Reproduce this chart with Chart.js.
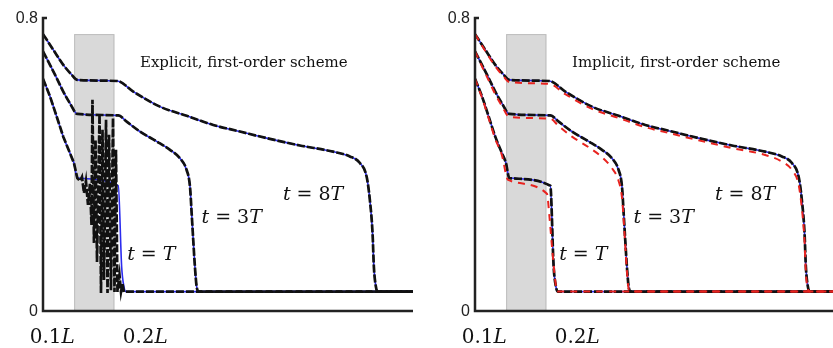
<!DOCTYPE html>
<html>
<head>
<meta charset="utf-8">
<script src="https://cdn.jsdelivr.net/npm/chart.js@4/dist/chart.umd.min.js"></script>
<style>
  html, body { margin: 0; padding: 0; background: #fff; }
  #wrap { position: relative; width: 833px; height: 348px; overflow: hidden; }
  #leftBox { position: absolute; left: 0; top: 0; width: 420px; height: 348px; }
  #rightBox { position: absolute; left: 420px; top: 0; width: 413px; height: 348px; overflow: hidden; }
</style>
</head>
<body>
<div id="wrap">
  <div id="leftBox"><canvas id="cLeft" width="420" height="348"></canvas></div>
  <div id="rightBox"><canvas id="cRight" width="432" height="348"></canvas></div>
</div>
<script>
// Position along the channel (x / L) and depth profiles at t = T, 3T, 8T.

// Ticks
const xTickValues = [0.1, 0.2];
const xTickLabels = ['0.1', '0.2'];
const yTickValues = [0, 0.8];
const yTickLabels = ['0', '0.8'];

// Shaded region
const bandRange = [0.1235, 0.1668];
const bandTop = 0.756;

// Reference solution (shared by both panels)
const refT_x = [0.090, 0.0975, 0.1047, 0.1118, 0.1190, 0.1233, 0.1269, 0.1710, 0.1746, 0.1771, 0.1792, 0.488];
const refT_y = [0.634, 0.586, 0.531, 0.476, 0.431, 0.404, 0.363, 0.342, 0.121, 0.066, 0.053, 0.053];

const ref3T_x = [0.090, 0.0975, 0.1047, 0.1118, 0.1190, 0.1269, 0.1710, 0.1800, 0.1943, 0.2123, 0.2266, 0.2373, 0.2445, 0.2481, 0.2499, 0.2516, 0.2534, 0.2553, 0.2577, 0.488];
const ref3T_y = [0.709, 0.672, 0.636, 0.599, 0.567, 0.538, 0.534, 0.517, 0.490, 0.463, 0.440, 0.417, 0.385, 0.340, 0.267, 0.194, 0.121, 0.066, 0.053, 0.053];

const ref8T_x = [0.090, 0.1011, 0.1118, 0.1209, 0.1269, 0.1699, 0.1871, 0.2158, 0.2445, 0.2731, 0.3018, 0.3305, 0.3663, 0.4022, 0.4201, 0.4309, 0.4381, 0.4416, 0.4445, 0.4459, 0.4481, 0.4499, 0.488];
const ref8T_y = [0.756, 0.713, 0.672, 0.645, 0.631, 0.628, 0.599, 0.558, 0.533, 0.508, 0.490, 0.472, 0.452, 0.435, 0.422, 0.404, 0.367, 0.303, 0.212, 0.121, 0.066, 0.053, 0.053];

// Explicit scheme at t = T (oscillates inside the shaded region)
const expT_x = [0.090, 0.0975, 0.1047, 0.1118, 0.1190, 0.1233, 0.1269, 0.1298, 0.1319, 0.1341, 0.1362, 0.1384, 0.1405,
                0.1422, 0.1432, 0.1448, 0.1465, 0.1481, 0.1508, 0.1524, 0.1540, 0.1556, 0.1578, 0.1594, 0.1610, 0.1631,
                0.1653, 0.1669, 0.1685, 0.1701, 0.1723, 0.1739, 0.1755, 0.1771, 0.1792, 0.488];
const expT_y = [0.634, 0.586, 0.531, 0.476, 0.431, 0.404, 0.363, 0.355, 0.366, 0.322, 0.355, 0.290, 0.347,
                0.235, 0.577, 0.186, 0.467, 0.134, 0.536, 0.049, 0.495, 0.085, 0.522, 0.049, 0.481, 0.057,
                0.527, 0.052, 0.440, 0.052, 0.098, 0.052, 0.074, 0.052, 0.053, 0.053];

// Implicit scheme
const impT_x = [0.090, 0.0975, 0.1047, 0.1118, 0.1190, 0.1255, 0.1674, 0.1700, 0.1730, 0.1760, 0.1785, 0.488];
const impT_y = [0.634, 0.583, 0.526, 0.470, 0.425, 0.358, 0.320, 0.260, 0.170, 0.090, 0.053, 0.053];

const imp3T_x = [0.090, 0.0975, 0.1047, 0.1118, 0.1190, 0.1269, 0.1710, 0.1800, 0.1943, 0.2123, 0.2266, 0.2373, 0.2445, 0.2481, 0.2499, 0.2516, 0.2534, 0.2553, 0.2577, 0.488];
const imp3T_y = [0.709, 0.668, 0.630, 0.592, 0.560, 0.530, 0.525, 0.505, 0.476, 0.447, 0.420, 0.390, 0.355, 0.310, 0.250, 0.180, 0.110, 0.060, 0.053, 0.053];

const imp8T_x = [0.090, 0.1011, 0.1118, 0.1209, 0.1269, 0.1699, 0.1871, 0.2158, 0.2445, 0.2731, 0.3018, 0.3305, 0.3663, 0.4022, 0.4201, 0.4309, 0.4381, 0.4416, 0.4445, 0.4459, 0.4481, 0.4499, 0.488];
const imp8T_y = [0.756, 0.710, 0.668, 0.640, 0.625, 0.620, 0.592, 0.552, 0.527, 0.502, 0.484, 0.466, 0.445, 0.426, 0.408, 0.385, 0.345, 0.280, 0.190, 0.105, 0.060, 0.053, 0.053];

// Curve labels: multiplier text and baseline position
const curveLabels = [
  { k: '8', x: 0.3481, y: 0.303 },
  { k: '3', x: 0.2605, y: 0.240 },
  { k: '',  x: 0.1805, y: 0.139 }
];

const SERIF = '"DejaVu Serif", "Liberation Serif", serif';
const SANS = '"Liberation Sans", Arial, sans-serif';

function pts(xs, ys) { return xs.map((x, i) => ({ x: x, y: ys[i] })); }

function drawRuns(ctx, runs, x0, y0) {
  let x = x0;
  for (const r of runs) {
    if (r.gap) { x += r.gap; continue; }
    ctx.font = r.font;
    ctx.fillText(r.t, x, y0);
    x += ctx.measureText(r.t).width;
  }
}

const decor = {
  id: 'decor',
  beforeDatasetsDraw(chart, args, o) {
    const { ctx, chartArea: a, scales: { x, y } } = chart;
    const x0 = x.getPixelForValue(bandRange[0]);
    const x1 = x.getPixelForValue(bandRange[1]);
    const yt = y.getPixelForValue(bandTop);
    ctx.save();
    ctx.fillStyle = '#d9d9d9';
    ctx.fillRect(x0, yt, x1 - x0, a.bottom - yt);
    ctx.strokeStyle = '#bdbdbd';
    ctx.lineWidth = 1;
    ctx.strokeRect(x0 + 0.5, yt + 0.5, x1 - x0 - 1, a.bottom - yt);
    ctx.restore();
  },
  afterDatasetsDraw(chart, args, o) {
    const { ctx, chartArea: a, scales: { x, y } } = chart;
    ctx.save();
    // axes
    const yTop = y.getPixelForValue(yTickValues[yTickValues.length - 1]);
    ctx.strokeStyle = '#222';
    ctx.lineWidth = 2.5;
    ctx.beginPath();
    ctx.moveTo(a.left + 4, yTop);
    ctx.lineTo(a.left, yTop);
    ctx.lineTo(a.left, a.bottom);
    ctx.lineTo(a.right, a.bottom);
    ctx.stroke();

    // y tick labels
    ctx.fillStyle = '#222';
    ctx.font = '16px ' + SANS;
    ctx.textAlign = 'right';
    ctx.textBaseline = 'middle';
    yTickValues.forEach((v, i) => {
      ctx.fillText(yTickLabels[i], a.left - 5, y.getPixelForValue(v) + 1);
    });

    // x tick labels: number upright, L italic
    ctx.fillStyle = '#111';
    ctx.textAlign = 'left';
    ctx.textBaseline = 'alphabetic';
    const up = '20px ' + SERIF, it = 'italic 20px ' + SERIF;
    xTickValues.forEach((v, i) => {
      ctx.font = up; const w1 = ctx.measureText(xTickLabels[i]).width;
      ctx.font = it; const w2 = ctx.measureText('L').width;
      const cx = x.getPixelForValue(v);
      drawRuns(ctx, [{ t: xTickLabels[i], font: up }, { t: 'L', font: it }], cx - (w1 + w2) / 2, a.bottom + 32);
    });

    // curve labels
    const mUp = '19px ' + SERIF, mIt = 'italic 19px ' + SERIF;
    curveLabels.forEach(l => {
      const runs = [{ t: 't', font: mIt }, { gap: 6 }, { t: '=', font: mUp }, { gap: 6 }];
      if (l.k) runs.push({ t: l.k, font: mUp });
      runs.push({ t: 'T', font: mIt });
      drawRuns(ctx, runs, x.getPixelForValue(l.x), y.getPixelForValue(l.y));
    });

    // panel title
    ctx.font = '15px ' + SERIF;
    ctx.fillText(o.title, x.getPixelForValue(0.1943), y.getPixelForValue(0.667));
    ctx.restore();
  }
};

const BLUE = '#2b2bee', BLACK = '#111111', RED = '#e8231f';

function refSet(xs, ys) {
  return { data: pts(xs, ys), borderColor: BLUE, borderWidth: 1.6, cubicInterpolationMode: 'monotone', order: 3 };
}
function blackSet(xs, ys, smooth) {
  const d = { data: pts(xs, ys), borderColor: BLACK, borderWidth: 2.7, borderDash: [8, 2], order: 2 };
  if (smooth) d.cubicInterpolationMode = 'monotone'; else d.tension = 0;
  return d;
}
function redSet(xs, ys) {
  return { data: pts(xs, ys), borderColor: RED, borderWidth: 2, borderDash: [7, 6], cubicInterpolationMode: 'monotone', order: 1 };
}

function makeChart(id, padLeft, title, datasets) {
  return new Chart(document.getElementById(id), {
    type: 'line',
    data: { datasets: datasets },
    options: {
      responsive: false,
      animation: false,
      devicePixelRatio: 1,
      layout: { padding: { left: padLeft, right: 7, top: 18, bottom: 37 } },
      elements: { point: { radius: 0 } },
      scales: {
        x: { type: 'linear', min: 0.09, max: 0.488, display: false },
        y: { min: 0, max: 0.8, display: false }
      },
      plugins: { legend: { display: false }, tooltip: { enabled: false }, decor: { title: title } }
    },
    plugins: [decor]
  });
}

makeChart('cLeft', 43, 'Explicit, first-order scheme', [
  refSet(ref8T_x, ref8T_y), refSet(ref3T_x, ref3T_y), refSet(refT_x, refT_y),
  blackSet(ref8T_x, ref8T_y, true), blackSet(ref3T_x, ref3T_y, true), blackSet(expT_x, expT_y, false)
]);

makeChart('cRight', 55, 'Implicit, first-order scheme', [
  refSet(ref8T_x, ref8T_y), refSet(ref3T_x, ref3T_y), refSet(refT_x, refT_y),
  blackSet(ref8T_x, ref8T_y, true), blackSet(ref3T_x, ref3T_y, true), blackSet(refT_x, refT_y, true),
  redSet(imp8T_x, imp8T_y), redSet(imp3T_x, imp3T_y), redSet(impT_x, impT_y)
]);
</script>
</body>
</html>
